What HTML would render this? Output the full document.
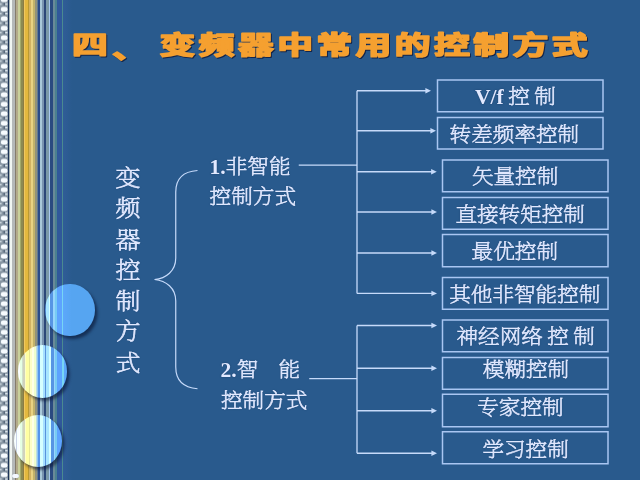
<!DOCTYPE html>
<html lang="zh-CN"><head><meta charset="utf-8"><title>变频器中常用的控制方式</title>
<style>
html,body{margin:0;padding:0}
body{width:640px;height:480px;overflow:hidden;position:relative;background:#295a8d;font-family:"Liberation Serif","Noto Serif CJK SC",serif;color:#e2e9ff}
#stripes{position:absolute;left:0;top:0;width:72px;height:480px;background:linear-gradient(90deg,#8593a0 0px,#8593a0 8px,#1c3358 8px,#1c3358 9px,#a8b4b4 9px,#a8b4b4 9.6px,#f0f5f2 9.6px,#f0f5f2 12.3px,#b4b8b9 12.3px,#b4b8b9 15.5px,#857c6c 15.5px,#857c6c 16.5px,#b3aa8a 16.5px,#b3aa8a 18.5px,#c9d09a 18.5px,#c9d09a 20px,#a2a96a 20px,#a2a96a 21.5px,#8c8a52 21.5px,#8c8a52 23px,#8c7c42 23px,#8c7c42 24.5px,#efc860 24.5px,#efc860 25.5px,#e4b83e 25.5px,#e4b83e 28.5px,#ba9a32 28.5px,#ba9a32 29.5px,#d2b262 29.5px,#d2b262 31.5px,#e9d282 31.5px,#e9d282 33.5px,#c2b26a 33.5px,#c2b26a 35.5px,#92927a 35.5px,#92927a 37px,#627a92 37px,#627a92 38px,#2a4a88 38px,#2a4a88 40px,#a9c9d9 40px,#a9c9d9 42.5px,#7a95b0 42.5px,#7a95b0 44.5px,#2c4878 44.5px,#2c4878 46px,#7b9aa8 46px,#7b9aa8 49px,#a8c8f0 49px,#a8c8f0 50.5px,#2a4a80 50.5px,#2a4a80 53.5px,#6a8a98 53.5px,#6a8a98 55px,#4a8090 55px,#4a8090 57px,#30589a 57px,#30589a 62px,#4a8a90 62px,#4a8a90 63.5px,#2f5c96 63.5px,#2f5c96 64.5px,#2f5c96 64.5px,#295a8d 72px)}
#film{position:absolute;left:0;top:0;width:8px;height:480px}
.c{position:absolute;border-radius:50%;box-shadow:2.5px 3px 3px rgba(8,20,50,.6);background-repeat:no-repeat;background-color:#56a5f1}
.t{position:absolute;white-space:pre;font-size:21.6px;line-height:26px;font-weight:200;-webkit-text-stroke:.62px #e2e9ff;text-shadow:0 0 1.5px rgba(10,30,70,.6);transform:scaleY(.93)}
.t b{font-weight:700;font-size:21.6px;-webkit-text-stroke:0}
#title{position:absolute;left:0;top:0;filter:drop-shadow(1px 1.3px .5px #14254a)}
#title text{font-family:"Liberation Sans","Noto Sans CJK SC",sans-serif;font-weight:700;font-size:24px;letter-spacing:2.25px;word-spacing:-2.8px;fill:#f5a030;stroke:#f5a030;stroke-width:1.6px;stroke-linejoin:round;white-space:pre}
#vt{position:absolute;left:115px;top:162.9px;width:26px;font-size:25px;line-height:34.3px;font-weight:200;-webkit-text-stroke:.75px #e2e9ff;text-align:center;text-shadow:0 0 1.5px rgba(10,30,70,.6);transform-origin:0 0;transform:scaleY(.90)}
</style></head><body>
<div id="stripes"></div>
<svg id="film" width="8" height="480" viewBox="0 0 8 480"><defs><pattern id="fp" x="0" y="4.5" width="8" height="9.5" patternUnits="userSpaceOnUse"><rect width="8" height="9.5" fill="#8795a2"/><rect x="0.9" y="2.4" width="6.6" height="4.7" rx="2.2" fill="#f7fbff"/><rect x="0" y="8.3" width="1.6" height="1.6" fill="#c9d4dc"/><rect x="0" y="-1.2" width="1.6" height="1.6" fill="#c9d4dc"/><rect x="5.2" y="8.4" width="2.3" height="1.5" fill="#dfe8f0"/><rect x="5.2" y="-1.1" width="2.3" height="1.5" fill="#dfe8f0"/><rect x="3.6" y="7.6" width="1.2" height="1.9" fill="#4d5f74"/><rect x="3.6" y="0" width="1.2" height="1.1" fill="#4d5f74"/></pattern></defs><rect width="8" height="480" fill="url(#fp)"/></svg>
<div style="position:absolute;left:11.8px;top:473.8px;width:7.4px;height:4.4px;border-radius:2.2px;background:#f4f8ff;box-shadow:0 0 1px #7a8a9a"></div>
<div class="c" style="left:45.4px;top:283.8px;width:49.2px;height:52.4px;background-image:linear-gradient(90deg,#c9e9ff 0px,#c9e9ff 8px,#6089d2 8px,#6089d2 9px,#ecffff 9px,#ecffff 9.6px,#ffffff 9.6px,#ffffff 12.3px,#f8ffff 12.3px,#f8ffff 15.5px,#c9d2e6 15.5px,#c9d2e6 16.5px,#f7ffff 16.5px,#f7ffff 18.5px,#ffffff 18.5px,#ffffff 20px,#e6ffe4 20px,#e6ffe4 21.5px,#d0e0cc 21.5px,#d0e0cc 23px,#d0d2bc 23px,#d0d2bc 24.5px,#ffffc4 24.5px,#ffffc4 25.5px,#ffffa2 25.5px,#ffffa2 28.5px,#e7e596 28.5px,#e7e596 29.5px,#fffdc6 29.5px,#fffdc6 31.5px,#ffffe6 31.5px,#ffffe6 33.5px,#effdce 33.5px,#effdce 35.5px,#bfddde 35.5px,#bfddde 37px,#8fc5f6 37px,#8fc5f6 38px,#5795ec 38px,#5795ec 40px,#d6ffff 40px,#d6ffff 42.5px,#a7e0ff 42.5px,#a7e0ff 44.5px,#5993dc 44.5px,#5993dc 46px,#a8e5ff 46px,#a8e5ff 49px,#d5ffff 49px,#d5ffff 50.5px,#5795e4 50.5px,#5795e4 53.5px,#97d5fc 53.5px,#97d5fc 55px,#77cbf4 55px,#77cbf4 57px,#5da3fe 57px,#5da3fe 62px,#77d5f4 62px,#77d5f4 63.5px,#5ca7fa 63.5px,#5ca7fa 64.5px,#5ca7fa 64.5px,#56a5f1 72px);background-size:72px 100%;background-position:-45.4px 0"></div>
<div class="c" style="left:17.9px;top:345.3px;width:49.2px;height:52.4px;background-image:linear-gradient(90deg,#c9e9ff 0px,#c9e9ff 8px,#6089d2 8px,#6089d2 9px,#ecffff 9px,#ecffff 9.6px,#ffffff 9.6px,#ffffff 12.3px,#f8ffff 12.3px,#f8ffff 15.5px,#c9d2e6 15.5px,#c9d2e6 16.5px,#f7ffff 16.5px,#f7ffff 18.5px,#ffffff 18.5px,#ffffff 20px,#e6ffe4 20px,#e6ffe4 21.5px,#d0e0cc 21.5px,#d0e0cc 23px,#d0d2bc 23px,#d0d2bc 24.5px,#ffffc4 24.5px,#ffffc4 25.5px,#ffffa2 25.5px,#ffffa2 28.5px,#e7e596 28.5px,#e7e596 29.5px,#fffdc6 29.5px,#fffdc6 31.5px,#ffffe6 31.5px,#ffffe6 33.5px,#effdce 33.5px,#effdce 35.5px,#bfddde 35.5px,#bfddde 37px,#8fc5f6 37px,#8fc5f6 38px,#5795ec 38px,#5795ec 40px,#d6ffff 40px,#d6ffff 42.5px,#a7e0ff 42.5px,#a7e0ff 44.5px,#5993dc 44.5px,#5993dc 46px,#a8e5ff 46px,#a8e5ff 49px,#d5ffff 49px,#d5ffff 50.5px,#5795e4 50.5px,#5795e4 53.5px,#97d5fc 53.5px,#97d5fc 55px,#77cbf4 55px,#77cbf4 57px,#5da3fe 57px,#5da3fe 62px,#77d5f4 62px,#77d5f4 63.5px,#5ca7fa 63.5px,#5ca7fa 64.5px,#5ca7fa 64.5px,#56a5f1 72px);background-size:72px 100%;background-position:-17.9px 0"></div>
<div class="c" style="left:13.6px;top:414.6px;width:48.4px;height:52.4px;background-image:linear-gradient(90deg,#c9e9ff 0px,#c9e9ff 8px,#6089d2 8px,#6089d2 9px,#ecffff 9px,#ecffff 9.6px,#ffffff 9.6px,#ffffff 12.3px,#f8ffff 12.3px,#f8ffff 15.5px,#c9d2e6 15.5px,#c9d2e6 16.5px,#f7ffff 16.5px,#f7ffff 18.5px,#ffffff 18.5px,#ffffff 20px,#e6ffe4 20px,#e6ffe4 21.5px,#d0e0cc 21.5px,#d0e0cc 23px,#d0d2bc 23px,#d0d2bc 24.5px,#ffffc4 24.5px,#ffffc4 25.5px,#ffffa2 25.5px,#ffffa2 28.5px,#e7e596 28.5px,#e7e596 29.5px,#fffdc6 29.5px,#fffdc6 31.5px,#ffffe6 31.5px,#ffffe6 33.5px,#effdce 33.5px,#effdce 35.5px,#bfddde 35.5px,#bfddde 37px,#8fc5f6 37px,#8fc5f6 38px,#5795ec 38px,#5795ec 40px,#d6ffff 40px,#d6ffff 42.5px,#a7e0ff 42.5px,#a7e0ff 44.5px,#5993dc 44.5px,#5993dc 46px,#a8e5ff 46px,#a8e5ff 49px,#d5ffff 49px,#d5ffff 50.5px,#5795e4 50.5px,#5795e4 53.5px,#97d5fc 53.5px,#97d5fc 55px,#77cbf4 55px,#77cbf4 57px,#5da3fe 57px,#5da3fe 62px,#77d5f4 62px,#77d5f4 63.5px,#5ca7fa 63.5px,#5ca7fa 64.5px,#5ca7fa 64.5px,#56a5f1 72px);background-size:72px 100%;background-position:-13.6px 0"></div>
<svg width="640" height="480" viewBox="0 0 640 480" style="position:absolute;left:0;top:0" fill="none" stroke="#c6dafa" stroke-width="1.3">
<rect x="437.5" y="80" width="165.5" height="31.75" stroke="#a9c6f2" stroke-width="1.5"/>
<rect x="437.5" y="117.5" width="165.5" height="31.5" stroke="#a9c6f2" stroke-width="1.5"/>
<rect x="442.5" y="160" width="165.5" height="31.75" stroke="#a9c6f2" stroke-width="1.5"/>
<rect x="442.5" y="197.5" width="165.5" height="31.75" stroke="#a9c6f2" stroke-width="1.5"/>
<rect x="442.5" y="234.5" width="165.5" height="32.25" stroke="#a9c6f2" stroke-width="1.5"/>
<rect x="442.5" y="277.5" width="165.5" height="31.75" stroke="#a9c6f2" stroke-width="1.5"/>
<rect x="442.5" y="320" width="165.5" height="31.75" stroke="#a9c6f2" stroke-width="1.5"/>
<rect x="442.5" y="357.5" width="165.5" height="31.75" stroke="#a9c6f2" stroke-width="1.5"/>
<rect x="442.5" y="394.25" width="165.5" height="32.5" stroke="#a9c6f2" stroke-width="1.5"/>
<rect x="442.5" y="431.75" width="165.5" height="32.0" stroke="#a9c6f2" stroke-width="1.5"/>
<path d="M357 90.75V293.4M298.75 165.2H357M357 325.5V453.25M309.25 378.6H357"/>
<path d="M357 90.75H427"/>
<path d="M431 90.75L425.4 88.05V93.45Z" fill="#c6dafa" stroke="none"/>
<path d="M357 130.75H432"/>
<path d="M436 130.75L430.4 128.05V133.45Z" fill="#c6dafa" stroke="none"/>
<path d="M357 171.75H432.75"/>
<path d="M436.75 171.75L431.15 169.05V174.45Z" fill="#c6dafa" stroke="none"/>
<path d="M357 212H433"/>
<path d="M437 212L431.4 209.3V214.7Z" fill="#c6dafa" stroke="none"/>
<path d="M357 253H433"/>
<path d="M437 253L431.4 250.3V255.7Z" fill="#c6dafa" stroke="none"/>
<path d="M357 293.4H433"/>
<path d="M437 293.4L431.4 290.7V296.09999999999997Z" fill="#c6dafa" stroke="none"/>
<path d="M357 325.5H433"/>
<path d="M437 325.5L431.4 322.8V328.2Z" fill="#c6dafa" stroke="none"/>
<path d="M357 368.25H433"/>
<path d="M437 368.25L431.4 365.55V370.95Z" fill="#c6dafa" stroke="none"/>
<path d="M357 410.75H433"/>
<path d="M437 410.75L431.4 408.05V413.45Z" fill="#c6dafa" stroke="none"/>
<path d="M357 453.25H433"/>
<path d="M437 453.25L431.4 450.55V455.95Z" fill="#c6dafa" stroke="none"/>
<path d="M197.5 170.5C183 171.5 175.75 179 175.75 192V258C175.75 271 166 278.5 154.5 279.5C166 280.5 175.75 288 175.75 301V367C175.75 380 183 387.5 197.5 388.75" stroke-width="1.2"/>
</svg>
<svg id="title" width="640" height="80"><text x="0" y="0" transform="translate(72,53.6) scale(1.494,1.06)" xml:space="preserve">四<tspan dy="4" dx="0.6">、</tspan><tspan dy="-4" dx="-0.6"> 变频器中常用的控制方式</tspan></text></svg>
<div id="vt">变<br>频<br>器<br>控<br>制<br>方<br>式</div>
<div class="t" id="a1" style="left:209.5px;top:154.0px"><b>1.</b>非智能</div>
<div class="t" id="a2" style="left:209.6px;top:183.8px">控制方式</div>
<div class="t" id="b1" style="left:220.5px;top:357.1px"><b>2.</b>智<span style="letter-spacing:-1.5px">　</span>能</div>
<div class="t" id="b2" style="left:221.0px;top:387.9px">控制方式</div>
<div class="t" id="x0" style="left:475.0px;top:83.9px"><span style="word-spacing:-1px"><b>V/f</b> 控 制</span></div>
<div class="t" id="x1" style="left:449.6px;top:121.8px">转差频率控制</div>
<div class="t" id="x2" style="left:471.9px;top:163.9px">矢量控制</div>
<div class="t" id="x3" style="left:455.4px;top:202.4px">直接转矩控制</div>
<div class="t" id="x4" style="left:471.6px;top:238.8px">最优控制</div>
<div class="t" id="x5" style="left:449.2px;top:282.4px">其他非智能控制</div>
<div class="t" id="x6" style="left:456.5px;top:324.2px"><span style="word-spacing:-1px">神经网络 控 制</span></div>
<div class="t" id="x7" style="left:482.8px;top:356.8px">模糊控制</div>
<div class="t" id="x8" style="left:477.2px;top:394.9px">专家控制</div>
<div class="t" id="x9" style="left:482.4px;top:436.7px">学习控制</div>
</body></html>
